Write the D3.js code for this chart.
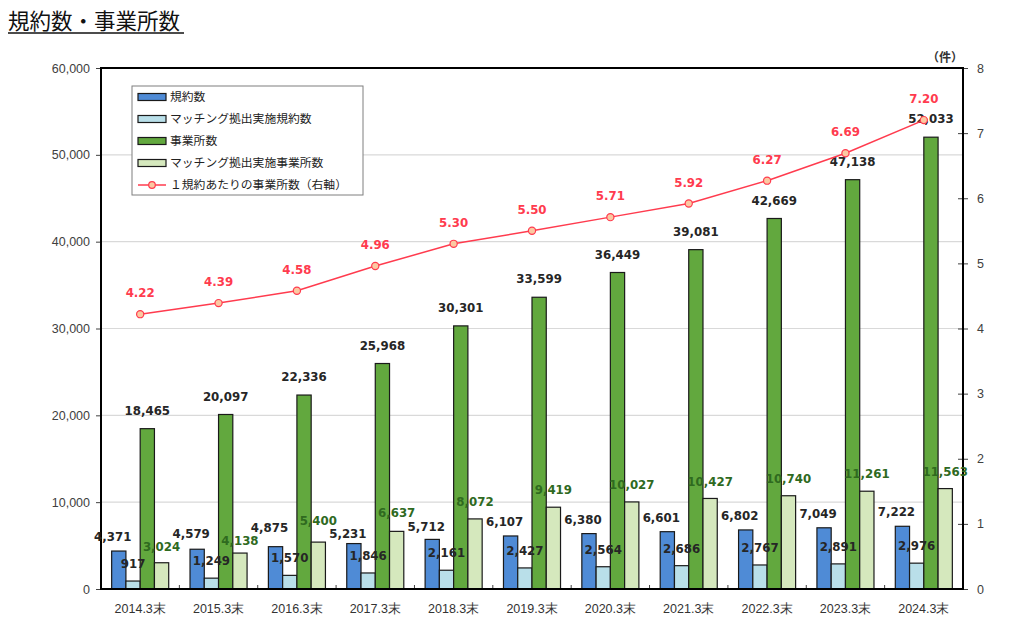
<!DOCTYPE html>
<html><head><meta charset="utf-8">
<script src="https://cdn.jsdelivr.net/npm/d3@7"></script>
<style>
html,body{margin:0;padding:0;background:#fff;}
svg{display:block;font-family:"DejaVu Sans","Noto Sans CJK JP",sans-serif;}
</style></head>
<body><svg id="c" width="1024" height="630"></svg>
<script>
const categories = ["2014.3末","2015.3末","2016.3末","2017.3末","2018.3末","2019.3末","2020.3末","2021.3末","2022.3末","2023.3末","2024.3末"];
const contracts = [4371,4579,4875,5231,5712,6107,6380,6601,6802,7049,7222];
const matchContracts = [917,1249,1570,1846,2161,2427,2564,2686,2767,2891,2976];
const offices = [18465,20097,22336,25968,30301,33599,36449,39081,42669,47138,52033];
const matchOffices = [3024,4138,5400,6637,8072,9419,10027,10427,10740,11261,11563];
const perContract = [4.22,4.39,4.58,4.96,5.30,5.50,5.71,5.92,6.27,6.69,7.20];
const leftTicks = [0,10000,20000,30000,40000,50000,60000];
const rightTicks = [0,1,2,3,4,5,6,7,8];
const seriesNames = ["規約数","マッチング拠出実施規約数","事業所数","マッチング拠出実施事業所数"];
const lineName = "１規約あたりの事業所数（右軸）";
const title = "規約数・事業所数";
const unitLabel = "（件）";

const colors = ["#4f8bd6","#b9dfe9","#62a83e","#d5e8bd"];
const labelColors = ["#262626","#262626","#262626","#2f6a1f"];
const red = "#ff3b4e";

const svg = d3.select("#c");
const L = 101, R = 963, T = 68, B = 589;

const x = d3.scaleBand().domain(categories).range([L, R]).paddingInner(0).paddingOuter(0);
const gw = x.bandwidth() * 0.728;
const xs = d3.scaleBand().domain(d3.range(4)).range([0, gw]).padding(0);
const yL = d3.scaleLinear().domain([0, 60000]).range([B, T]);
const yR = d3.scaleLinear().domain([0, 8]).range([B, T]);

// title
svg.append("text").attr("x", 8).attr("y", 29).attr("font-size", 21.5)
  .attr("fill", "#111").attr("font-family", "'Noto Sans CJK JP',sans-serif").text(title);
svg.append("line").attr("x1", 8).attr("x2", 184).attr("y1", 33).attr("y2", 33)
  .attr("stroke", "#111").attr("stroke-width", 1.6);

// gridlines
svg.append("g").selectAll("line").data(leftTicks.filter(d => d > 0 && d < 60000)).join("line")
  .attr("x1", L).attr("x2", R).attr("y1", d => yL(d)).attr("y2", d => yL(d))
  .attr("stroke", "#d9d9d9").attr("stroke-width", 1.2);

// axes
const ga = svg.append("g").attr("transform", `translate(${L},0)`)
  .call(d3.axisLeft(yL).tickValues(leftTicks).tickFormat(d3.format(",")).tickSize(5).tickPadding(6));
const gr = svg.append("g").attr("transform", `translate(${R},0)`)
  .call(d3.axisRight(yR).tickValues(rightTicks).tickSize(5).tickPadding(9));
[ga, gr].forEach(g => {
  g.select(".domain").remove();
  g.selectAll("text").attr("font-size", 12.5).attr("fill", "#404040");
  g.selectAll(".tick line").attr("stroke", "#404040");
});
gr.selectAll(".tick line").attr("x1", -5);
const gx = svg.append("g").attr("transform", `translate(0,${B})`)
  .call(d3.axisBottom(x).tickSize(0).tickPadding(15));
gx.select(".domain").remove();
gx.selectAll("text").attr("font-size", 12.5).attr("fill", "#333");
svg.append("g").selectAll("line").data(categories.slice(1)).join("line")
  .attr("x1", d => x(d)).attr("x2", d => x(d)).attr("y1", B).attr("y2", B - 4)
  .attr("stroke", "#404040");

// bars
const seriesData = [contracts, matchContracts, offices, matchOffices];
const gOff = (x.bandwidth() - gw) / 2;
const barG = svg.append("g");
seriesData.forEach((vals, si) => {
  barG.selectAll(null).data(vals).join("rect")
    .attr("x", (d, i) => x(categories[i]) + gOff + xs(si))
    .attr("y", d => yL(d)).attr("width", xs.bandwidth())
    .attr("height", d => B - yL(d))
    .attr("fill", colors[si]).attr("stroke", "#1a1a1a").attr("stroke-width", 1.2);
});

// frame
svg.append("rect").attr("x", L).attr("y", T).attr("width", R - L).attr("height", B - T)
  .attr("fill", "none").attr("stroke", "#000").attr("stroke-width", 2);

// bar labels (positions computed, then de-collided)
const fmt = d3.format(",");
const lblOffsetX = [-6, 0, 0, 0];
const lblOffsetY = [14, 17, 18, 17];
const labelPos = seriesData.map((vals, si) => vals.map((d, i) => ({
  x: x(categories[i]) + gOff + xs(si) + xs.bandwidth() / 2 + lblOffsetX[si],
  y: yL(d) - lblOffsetY[si], v: d
})));
const minGap = 13.5;
for (let i = 1; i < categories.length; i++) {
  const a = labelPos[3][i - 1], b = labelPos[0][i];
  const dy = b.y - a.y;
  if (Math.abs(dy) < minGap) {
    const def = (minGap - Math.abs(dy)) / 2;
    if (dy >= 0) { a.y -= def; b.y += def; } else { a.y += def; b.y -= def; }
  }
}
const labG = svg.append("g").attr("font-size", 11.8).attr("font-weight", "bold").attr("text-anchor", "middle");
labelPos.forEach((arr, si) => {
  labG.selectAll(null).data(arr).join("text")
    .attr("x", p => p.x).attr("y", p => p.y).attr("dy", "0.35em")
    .attr("fill", labelColors[si]).text(p => fmt(p.v));
});

// line
const cx = (d, i) => x(categories[i]) + x.bandwidth() / 2;
svg.append("path").datum(perContract)
  .attr("d", d3.line().x(cx).y(d => yR(d)))
  .attr("fill", "none").attr("stroke", red).attr("stroke-width", 1.5);
svg.append("g").selectAll("circle").data(perContract).join("circle")
  .attr("cx", cx).attr("cy", d => yR(d)).attr("r", 3.6)
  .attr("fill", "#fbc9a2").attr("stroke", red).attr("stroke-width", 1.2);
svg.append("g").attr("font-size", 11.8).attr("font-weight", "bold").attr("text-anchor", "middle")
  .selectAll("text").data(perContract).join("text")
  .attr("x", cx).attr("y", d => yR(d) - 21).attr("dy", "0.35em")
  .attr("fill", red).text(d => d3.format(".2f")(d));

// unit
svg.append("text").attr("x", 945).attr("y", 62).attr("text-anchor", "middle")
  .attr("font-size", 12).attr("font-weight", "bold").attr("fill", "#333").text(unitLabel);

// legend
const lg = svg.append("g");
lg.append("rect").attr("x", 132).attr("y", 86).attr("width", 231).attr("height", 109)
  .attr("fill", "#fff").attr("stroke", "#7f7f7f").attr("stroke-width", 1);
const rowY = d3.scalePoint().domain(d3.range(5)).range([97, 185]);
seriesNames.forEach((n, i) => {
  lg.append("rect").attr("x", 138).attr("y", rowY(i) - 3.5).attr("width", 28).attr("height", 7)
    .attr("fill", colors[i]).attr("stroke", "#1a1a1a").attr("stroke-width", 1.2);
  lg.append("text").attr("x", 170).attr("y", rowY(i)).attr("dy", "0.35em")
    .attr("font-size", 11.8).attr("fill", "#222").text(n);
});
lg.append("line").attr("x1", 138).attr("x2", 166).attr("y1", rowY(4)).attr("y2", rowY(4))
  .attr("stroke", red).attr("stroke-width", 1.5);
lg.append("circle").attr("cx", 152).attr("cy", rowY(4)).attr("r", 3.3)
  .attr("fill", "#fbc9a2").attr("stroke", red).attr("stroke-width", 1.2);
lg.append("text").attr("x", 170).attr("y", rowY(4)).attr("dy", "0.35em")
  .attr("font-size", 11.8).attr("fill", "#222").text(lineName);
</script></body></html>
